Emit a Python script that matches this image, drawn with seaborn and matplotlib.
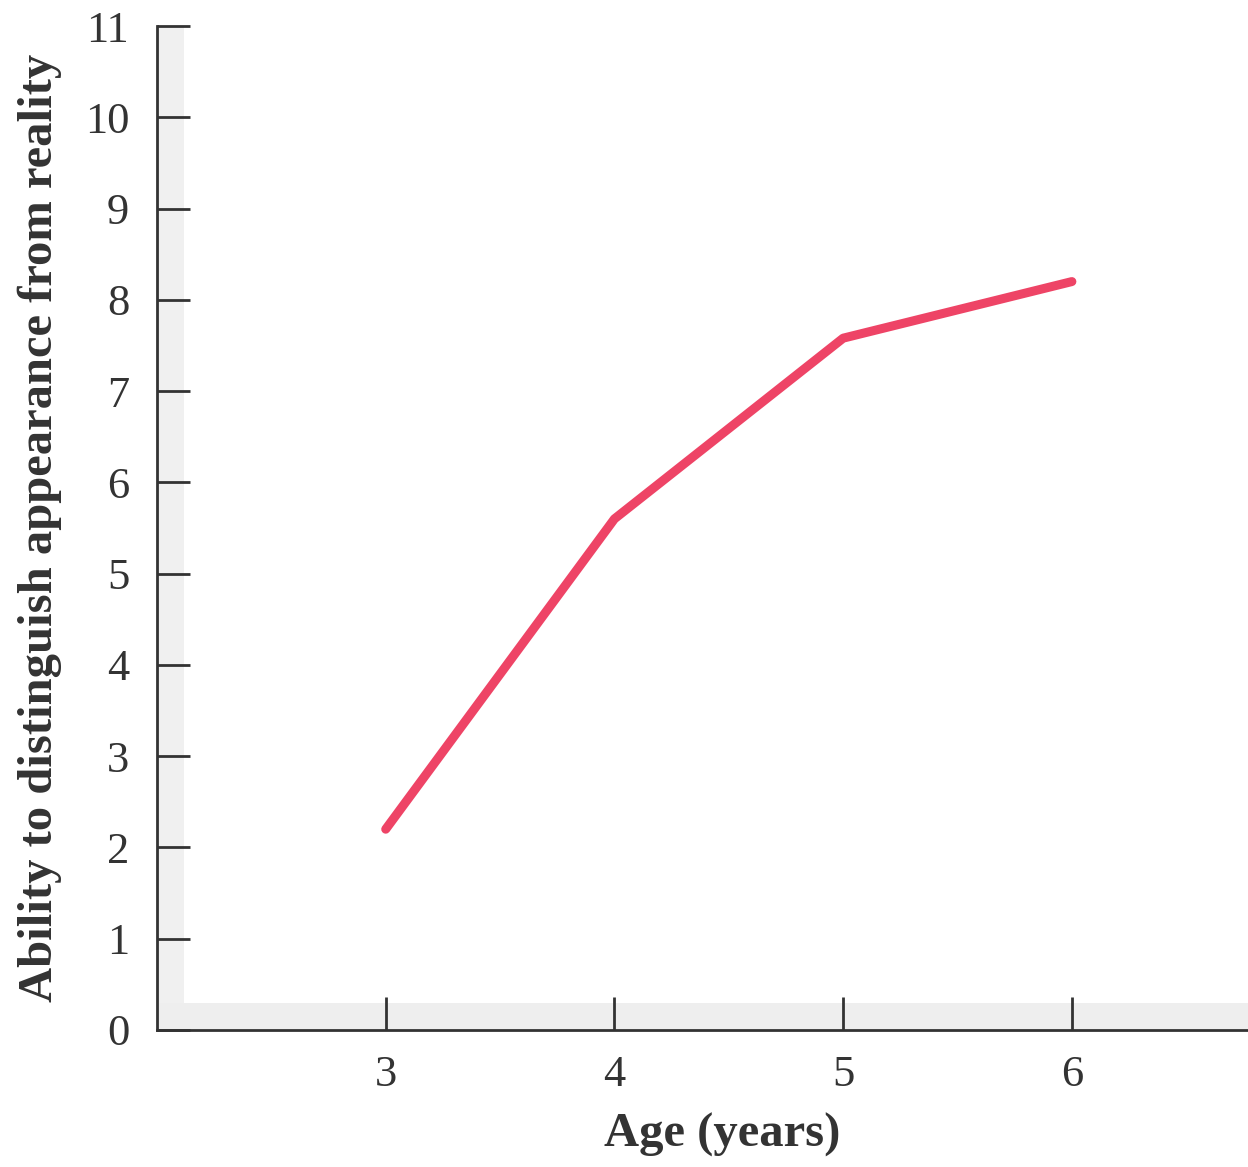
import matplotlib
matplotlib.use("Agg")
import matplotlib.pyplot as plt
import pandas as pd
import seaborn as sns

# values
ages = [3, 4, 5, 6]
ability = [2.2, 5.6, 7.58, 8.2]

df = pd.DataFrame({"age": ages, "ability": ability})

sns.set_style("white")
plt.rcParams["font.family"] = ["Liberation Serif", "DejaVu Serif"]

fig = plt.figure(figsize=(12.48, 11.67), dpi=100)
ax = fig.add_axes([0.1258, 0.1174, 0.8742, 0.8603])

# faint grey bleed along the axes, like the printed page
ax.axvspan(2.0, 2.12, color="#f0f0f0", zorder=0, lw=0)
ax.axhspan(0, 0.3, color="#eeeeee", zorder=0, lw=0)

sns.lineplot(data=df, x="age", y="ability", color="#ee4466", lw=6.5,
             solid_capstyle="round", ax=ax, zorder=3)

ax.set_xlim(2.0, 6.77)
ax.set_ylim(0, 11)
ax.set_xticks(ages)
ax.set_yticks(range(0, 12))

for side in ["top", "right"]:
    ax.spines[side].set_visible(False)
for side in ["left", "bottom"]:
    ax.spines[side].set_color("#333333")
    ax.spines[side].set_linewidth(2)

ax.tick_params(left=True, bottom=True, direction="in", length=24, width=2,
               color="#333333", labelsize=32, labelcolor="#333333")
ax.tick_params(axis="y", pad=20)
ax.tick_params(axis="x", pad=18)

ax.set_xlabel("Age (years)", fontsize=35, fontweight="bold", color="#333333")
ax.xaxis.set_label_coords(0.518, -0.082)
ax.set_ylabel("Ability to distinguish appearance from reality", fontsize=35,
              fontweight="bold", color="#333333", labelpad=16)

fig.savefig("out.png", dpi=100)
